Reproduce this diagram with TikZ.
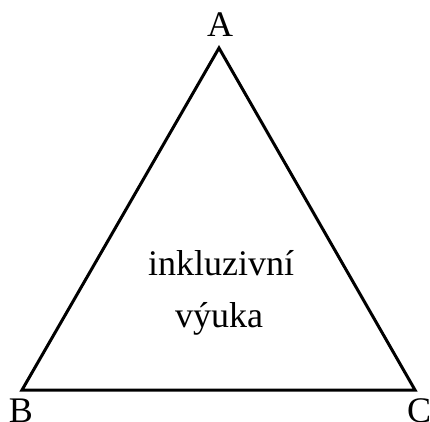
\documentclass[tikz,border=0pt]{standalone}
\usepackage{fontspec}
\setmainfont{Liberation Serif}
\begin{document}
\begin{tikzpicture}[x=1pt,y=1pt,
  lbl/.style={inner sep=0pt,anchor=base,font=\fontsize{36}{40}\selectfont},
  edge/.style={line width=3pt,line join=miter}]
\useasboundingbox (0,0) rectangle (430,421);
\coordinate (a) at (219,373);
\coordinate (b) at (22,31);
\coordinate (c) at (415,31);
\draw[edge] (a) -- (b) -- (c) -- cycle;
\node[lbl] (la) at (220,384.5) {A};
\node[lbl] (lb) at (21,-1) {B};
\node[lbl] (lc) at (419,-1) {C};
\node[lbl] (t1) at (221,146) {inkluzivní};
\node[lbl] (t2) at (219,94) {výuka};
\end{tikzpicture}
\end{document}
